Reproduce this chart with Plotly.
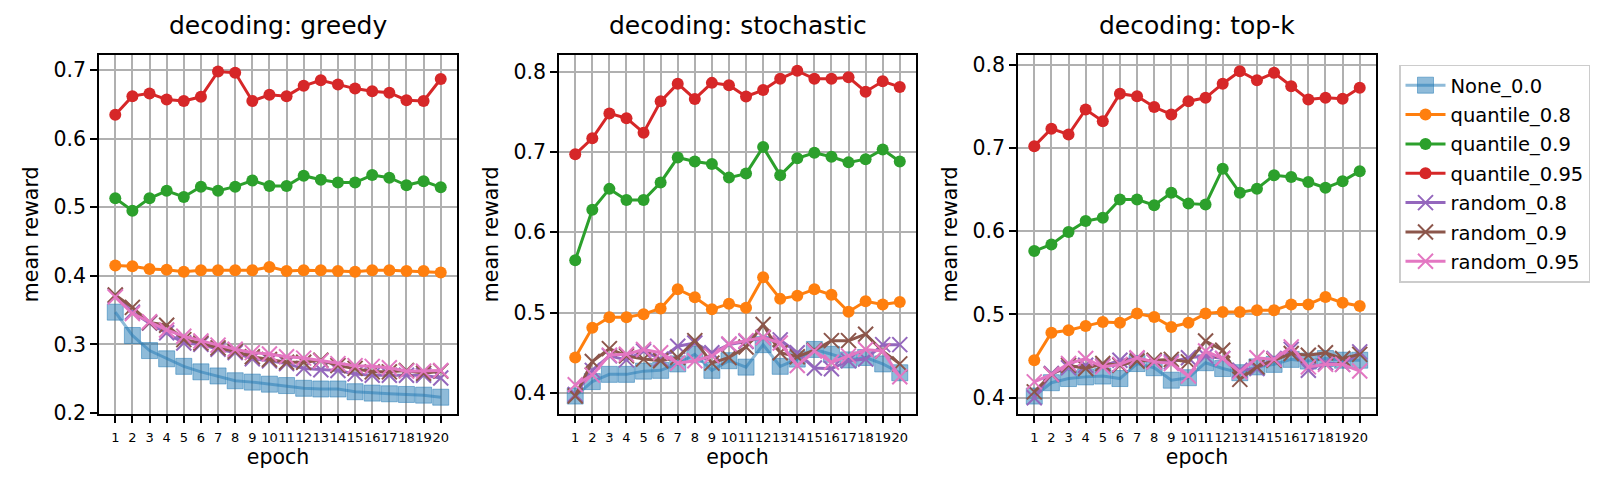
import plotly.graph_objects as go

epochs = list(range(1, 21))
names = ["None_0.0", "quantile_0.8", "quantile_0.9", "quantile_0.95",
         "random_0.8", "random_0.9", "random_0.95"]
panels = ["greedy", "stochastic", "top-k"]

# greedy
greedy_none = [0.347, 0.313, 0.291, 0.279, 0.268, 0.260, 0.254, 0.247, 0.245, 0.242,
               0.240, 0.236, 0.235, 0.235, 0.231, 0.229, 0.228, 0.227, 0.226, 0.223]
greedy_q08 = [0.415, 0.414, 0.410, 0.409, 0.406, 0.408, 0.408, 0.408, 0.408, 0.413,
              0.407, 0.408, 0.408, 0.407, 0.406, 0.408, 0.408, 0.407, 0.407, 0.405]
greedy_q09 = [0.513, 0.495, 0.513, 0.524, 0.515, 0.530, 0.524, 0.530, 0.539, 0.531,
              0.531, 0.546, 0.540, 0.536, 0.536, 0.547, 0.543, 0.532, 0.538, 0.529]
greedy_q095 = [0.635, 0.662, 0.666, 0.657, 0.655, 0.661, 0.698, 0.696, 0.655, 0.664,
               0.662, 0.677, 0.685, 0.679, 0.673, 0.669, 0.667, 0.656, 0.655, 0.687]
greedy_r08 = [0.371, 0.347, 0.331, 0.317, 0.302, 0.300, 0.293, 0.288, 0.279, 0.276,
              0.272, 0.265, 0.263, 0.262, 0.257, 0.255, 0.255, 0.255, 0.255, 0.251]
greedy_r09 = [0.372, 0.354, 0.332, 0.328, 0.307, 0.302, 0.295, 0.290, 0.282, 0.278,
              0.274, 0.274, 0.277, 0.269, 0.265, 0.260, 0.260, 0.262, 0.258, 0.261]
greedy_r095 = [0.369, 0.345, 0.333, 0.321, 0.312, 0.305, 0.299, 0.293, 0.288, 0.286,
               0.282, 0.280, 0.276, 0.272, 0.269, 0.268, 0.266, 0.261, 0.261, 0.262]

# stochastic
stoch_none = [0.396, 0.414, 0.423, 0.423, 0.427, 0.428, 0.436, 0.448, 0.428, 0.440,
              0.432, 0.460, 0.433, 0.442, 0.454, 0.448, 0.441, 0.444, 0.436, 0.425]
stoch_q08 = [0.444, 0.481, 0.494, 0.494, 0.498, 0.505, 0.529, 0.519, 0.504, 0.511,
             0.506, 0.544, 0.517, 0.521, 0.529, 0.522, 0.501, 0.514, 0.510, 0.513]
stoch_q09 = [0.565, 0.628, 0.654, 0.640, 0.640, 0.662, 0.693, 0.688, 0.685, 0.668,
             0.673, 0.706, 0.671, 0.692, 0.699, 0.694, 0.687, 0.691, 0.703, 0.688]
stoch_q095 = [0.697, 0.717, 0.748, 0.742, 0.724, 0.763, 0.785, 0.766, 0.786, 0.783,
              0.769, 0.777, 0.791, 0.801, 0.791, 0.791, 0.793, 0.775, 0.788, 0.781]
stoch_r08 = [0.398, 0.428, 0.446, 0.441, 0.452, 0.442, 0.458, 0.462, 0.450, 0.460,
             0.464, 0.469, 0.466, 0.450, 0.431, 0.430, 0.440, 0.442, 0.460, 0.460]
stoch_r09 = [0.396, 0.439, 0.455, 0.446, 0.442, 0.440, 0.444, 0.465, 0.437, 0.444,
             0.457, 0.485, 0.450, 0.445, 0.453, 0.465, 0.465, 0.473, 0.452, 0.436]
stoch_r095 = [0.410, 0.422, 0.447, 0.448, 0.454, 0.450, 0.437, 0.440, 0.446, 0.461,
              0.465, 0.469, 0.462, 0.434, 0.452, 0.438, 0.446, 0.454, 0.452, 0.420]

# top-k
topk_none = [0.402, 0.418, 0.423, 0.425, 0.426, 0.423, 0.441, 0.436, 0.421, 0.424,
             0.442, 0.435, 0.430, 0.437, 0.440, 0.446, 0.444, 0.447, 0.445, 0.445]
topk_q08 = [0.445, 0.478, 0.481, 0.486, 0.491, 0.490, 0.501, 0.497, 0.485, 0.490,
            0.501, 0.503, 0.503, 0.505, 0.505, 0.512, 0.512, 0.521, 0.514, 0.510]
topk_q09 = [0.576, 0.584, 0.599, 0.612, 0.616, 0.638, 0.638, 0.631, 0.646, 0.633,
            0.632, 0.675, 0.646, 0.651, 0.667, 0.665, 0.659, 0.652, 0.660, 0.672]
topk_q095 = [0.702, 0.723, 0.716, 0.746, 0.732, 0.765, 0.762, 0.749, 0.740, 0.756,
             0.760, 0.777, 0.792, 0.781, 0.790, 0.774, 0.758, 0.760, 0.759, 0.772]
topk_r08 = [0.400, 0.429, 0.436, 0.439, 0.438, 0.445, 0.447, 0.443, 0.443, 0.448,
            0.450, 0.447, 0.433, 0.435, 0.447, 0.458, 0.433, 0.442, 0.440, 0.455]
topk_r09 = [0.407, 0.428, 0.439, 0.435, 0.441, 0.439, 0.444, 0.445, 0.446, 0.443,
            0.468, 0.457, 0.422, 0.437, 0.445, 0.453, 0.451, 0.454, 0.447, 0.452]
topk_r095 = [0.419, 0.428, 0.441, 0.447, 0.437, 0.440, 0.448, 0.443, 0.441, 0.426,
             0.456, 0.447, 0.431, 0.448, 0.446, 0.461, 0.437, 0.440, 0.440, 0.432]

series = {
    "greedy": [greedy_none, greedy_q08, greedy_q09, greedy_q095, greedy_r08, greedy_r09, greedy_r095],
    "stochastic": [stoch_none, stoch_q08, stoch_q09, stoch_q095, stoch_r08, stoch_r09, stoch_r095],
    "top-k": [topk_none, topk_q08, topk_q09, topk_q095, topk_r08, topk_r09, topk_r095],
}
yticks = {
    "greedy": [0.2, 0.3, 0.4, 0.5, 0.6, 0.7],
    "stochastic": [0.4, 0.5, 0.6, 0.7, 0.8],
    "top-k": [0.4, 0.5, 0.6, 0.7, 0.8],
}
yranges = {
    "greedy": [0.1986, 0.7223],
    "stochastic": [0.3737, 0.821],
    "top-k": [0.3805, 0.8117],
}

colors = ["#1f77b4", "#ff7f0e", "#2ca02c", "#d62728", "#9467bd", "#8c564b", "#e377c2"]
W, H = 1623, 488
x_dom = [(91, 449), (551, 908), (1010, 1368)]
y_dom = [(H - 415) / H, (H - 46) / H]
FONT = "DejaVu Sans"

fig = go.Figure()

for p, panel in enumerate(panels):
    ax = "" if p == 0 else str(p + 1)
    for i, name in enumerate(names):
        vals = series[panel][i]
        if i == 0:
            line = dict(color="rgba(31,119,180,0.5)", width=3)
            marker = dict(symbol="square", size=16, color="rgba(31,119,180,0.5)",
                          line=dict(width=1, color="rgba(31,119,180,0.5)"))
        elif i < 4:
            line = dict(color=colors[i], width=3)
            marker = dict(symbol="circle", size=12, color=colors[i],
                          line=dict(width=0))
        else:
            line = dict(color=colors[i], width=3)
            marker = dict(symbol="x-thin", size=15, color=colors[i],
                          line=dict(width=2, color=colors[i]))
        fig.add_trace(go.Scatter(
            x=epochs, y=vals, mode="lines+markers", name=name,
            line=line, marker=marker, legendgroup=name,
            showlegend=(p == 0), xaxis="x" + ax, yaxis="y" + ax,
        ))

    axis_common = dict(
        showline=True, linecolor="black", linewidth=1.6, mirror=True,
        ticks="outside", ticklen=7, tickwidth=1.6, tickcolor="black",
        showgrid=True, gridcolor="#b0b0b0", gridwidth=1.5, zeroline=False,
    )
    fig.layout["xaxis" + ax] = dict(
        axis_common, domain=[x_dom[p][0] / W, x_dom[p][1] / W],
        anchor="y" + ax, range=[0.05, 20.95], tickvals=epochs,
        ticktext=[str(e) for e in epochs], tickangle=0, ticklabelstandoff=4,
        tickfont=dict(family=FONT, size=13, color="black"),
        title=dict(text="epoch", font=dict(family=FONT, size=20.5, color="black"), standoff=3),
    )
    fig.layout["yaxis" + ax] = dict(
        axis_common, domain=y_dom, anchor="x" + ax, range=yranges[panel],
        tickvals=yticks[panel], ticktext=["%.1f" % v for v in yticks[panel]],
        tickfont=dict(family=FONT, size=20.5, color="black"),
        title=dict(text="mean reward", font=dict(family=FONT, size=20.5, color="black"), standoff=9),
    )
    fig.add_annotation(
        text="decoding: " + panel, xref="paper", yref="paper",
        x=(x_dom[p][0] + x_dom[p][1]) / 2 / W, y=(H - 16) / H,
        xanchor="center", yanchor="middle", showarrow=False,
        font=dict(family=FONT, size=25, color="black"),
    )

fig.update_layout(
    width=W, height=H,
    margin=dict(l=0, r=0, t=0, b=0),
    paper_bgcolor="white", plot_bgcolor="white",
    font=dict(family=FONT, color="black"),
    legend=dict(
        x=1391 / W, y=(H - 56) / H, xanchor="left", yanchor="top",
        bordercolor="#cccccc", borderwidth=1.5, bgcolor="white",
        font=dict(family=FONT, size=19.5, color="black"),
        tracegroupgap=1, itemwidth=40,
    ),
)

fig.write_html("out.html")
